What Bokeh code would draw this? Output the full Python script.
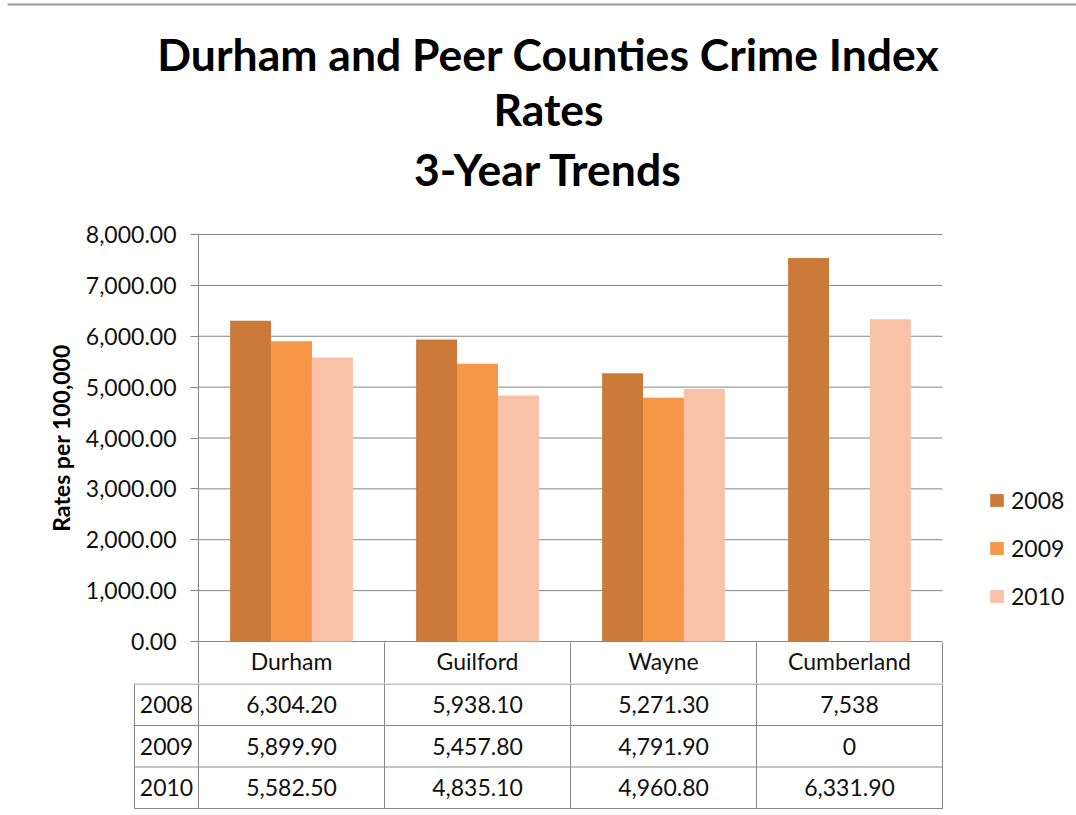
from bokeh.plotting import figure
from bokeh.models import (Range1d, FixedTicker, NumeralTickFormatter, Legend,
                          LegendItem, ColumnDataSource, LinearAxis)
from bokeh.transform import dodge
from bokeh.embed import file_html
from bokeh.resources import INLINE
from bokeh.core.properties import value

# ---------------- data ----------------
counties = ["Durham", "Guilford", "Wayne", "Cumberland"]
years = ["2008", "2009", "2010"]
rates_2008 = [6304.2, 5938.1, 5271.3, 7538.0]
rates_2009 = [5899.9, 5457.8, 4791.9, 0.0]
rates_2010 = [5582.5, 4835.1, 4960.8, 6331.9]
y_ticks = [0, 1000, 2000, 3000, 4000, 5000, 6000, 7000, 8000]
title_lines = ["Durham and Peer Counties Crime Index", "Rates", "3-Year Trends"]
colors = ["#CB7A3A", "#F79646", "#F9C1A6"]

FONT = "Lato"
GRID = "#868686"
TXT = "#111111"
FS = "23px"

series = [rates_2008, rates_2009, rates_2010]
n = len(counties)
W = 1076

# ---------------- title block ----------------
TH = 215
ttl = figure(width=W, height=TH, output_backend="svg", toolbar_location=None,
             x_range=Range1d(0, W), y_range=Range1d(TH, 0),
             x_axis_location=None, y_axis_location=None,
             min_border_left=0, min_border_right=0, min_border_top=0,
             min_border_bottom=0)
ttl.outline_line_color = None
ttl.grid.visible = False
ttl.segment(x0=[7], x1=[W], y0=[4], y1=[4], line_color="#9a9a9a", line_width=2)
ttl.text(x=[548] * 3, y=[53, 108, 168], text=title_lines, text_align="center",
         text_baseline="alphabetic", text_font=value(FONT),
         text_font_size="44.5px", text_font_style="bold", text_color="#000000")

# ---------------- chart ----------------
src = ColumnDataSource(dict(
    x=[i + 0.5 for i in range(n)],
    county=counties,
    y2008=rates_2008, y2009=rates_2009, y2010=rates_2010,
))

p = figure(width=W, height=683 - TH, output_backend="svg", toolbar_location=None,
           x_range=Range1d(0, 870 / 186), y_range=Range1d(-19.66, 8019.66),
           x_axis_location=None,
           min_border_left=198, min_border_right=8, min_border_top=233 - TH,
           min_border_bottom=41)
p.outline_line_color = None
p.grid.visible = False

# horizontal gridlines limited to the plot area (x = 0 .. n)
p.segment(x0=[0] * len(y_ticks), x1=[n] * len(y_ticks), y0=y_ticks, y1=y_ticks,
          line_color=GRID, line_width=1)

ax = p.yaxis[0]
ax.ticker = FixedTicker(ticks=y_ticks)
ax.formatter = NumeralTickFormatter(format="0,0.00")
ax.axis_line_color = GRID
ax.major_tick_line_color = GRID
ax.major_tick_out = 8
ax.major_tick_in = 0
ax.minor_tick_line_color = None
ax.major_label_text_font = FONT
ax.major_label_text_font_size = FS
ax.major_label_text_color = TXT
ax.major_label_standoff = 14
ax.axis_label = "Rates per 100,000"
ax.axis_label_text_font = FONT
ax.axis_label_text_font_size = FS
ax.axis_label_text_font_style = "bold"
ax.axis_label_text_color = "#000000"
ax.axis_label_standoff = 8

# category axis = header row of the data table
centers = [i + 0.5 for i in range(n)]
xax = LinearAxis(ticker=FixedTicker(ticks=centers, minor_ticks=list(range(n + 1))),
                 major_label_overrides={c: name for c, name in zip(centers, counties)})
xax.axis_line_color = None
xax.major_tick_line_color = None
xax.major_tick_out = 0
xax.major_tick_in = 0
xax.minor_tick_line_color = GRID
xax.minor_tick_out = 41
xax.minor_tick_in = 0
xax.major_label_text_font = FONT
xax.major_label_text_font_size = FS
xax.major_label_text_color = TXT
xax.major_label_standoff = -37
p.add_layout(xax, "below")

offsets = [-0.22, 0.0, 0.22]
items = []
for yr, col, off in zip(years, colors, offsets):
    r = p.vbar(x=dodge("x", off, range=p.x_range), top="y" + yr, width=0.22,
               source=src, fill_color=col, line_color=None)
    items.append(LegendItem(label=yr, renderers=[r]))

legend = Legend(items=items, location=(790, 32), orientation="vertical",
                glyph_width=17, glyph_height=16, label_height=28,
                label_text_font=FONT, label_text_font_size=FS,
                label_text_color=TXT, spacing=20, padding=0, margin=0,
                border_line_color=None, background_fill_alpha=0,
                label_standoff=6)
p.add_layout(legend, "center")

# ---------------- data table (year rows) ----------------
t = figure(width=W, height=815 - 683, output_backend="svg", toolbar_location=None,
           x_range=Range1d(-0.35475, 4.01075), y_range=Range1d(4.024, 0.988),
           x_axis_location=None, y_axis_location=None,
           min_border_left=132, min_border_right=132, min_border_top=0,
           min_border_bottom=6)
t.outline_line_color = None
t.grid.visible = False

LW = -0.344  # left edge of year column
hy = [1, 2, 3, 4]
t.segment(x0=[LW] * 4, y0=hy, x1=[n] * 4, y1=hy, line_color=GRID, line_width=1)
vx = [LW] + list(range(n + 1))
t.segment(x0=vx, y0=[1] * len(vx), x1=vx, y1=[4] * len(vx),
          line_color=GRID, line_width=1)


def fmt(v):
    return f"{int(v):,}" if float(v).is_integer() else f"{v:,.2f}"


cell_x, cell_y, cell_t = [], [], []
for i, (yr, vals) in enumerate(zip(years, series)):
    cell_x.append(LW / 2); cell_y.append(i + 1.5); cell_t.append(yr)
    for j, v in enumerate(vals):
        cell_x.append(j + 0.5); cell_y.append(i + 1.5); cell_t.append(fmt(v))

t.text(x=cell_x, y=cell_y, text=cell_t, text_align="center",
       text_baseline="middle", text_font=value(FONT), text_font_size=FS,
       text_color=TXT)

open("out.html", "w").write(file_html([ttl, p, t], INLINE))
